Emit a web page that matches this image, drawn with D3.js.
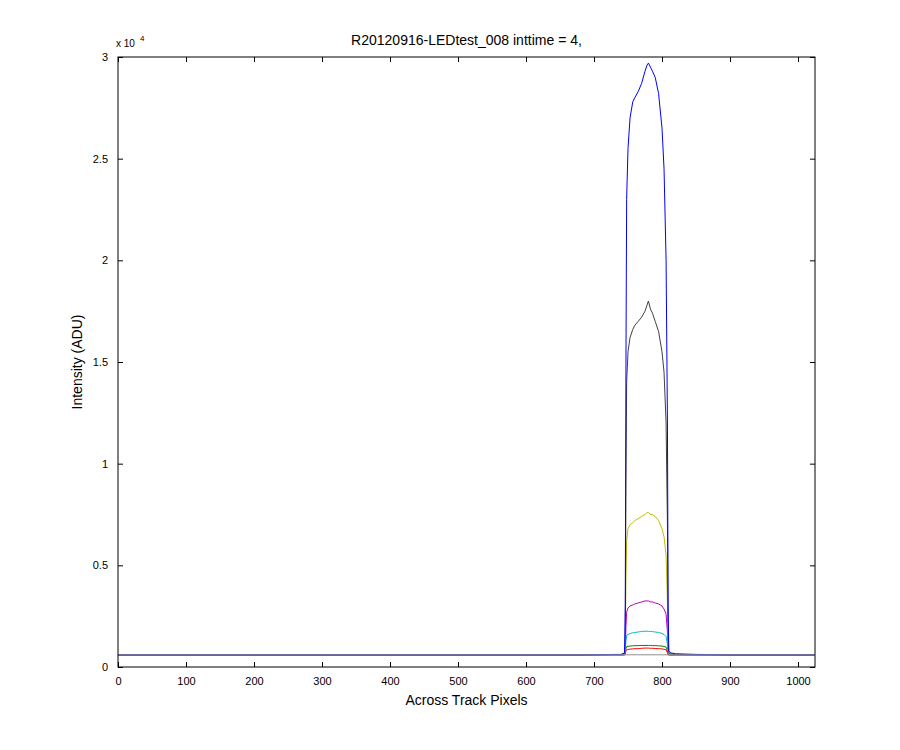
<!DOCTYPE html>
<html><head><meta charset="utf-8">
<script src="https://cdn.jsdelivr.net/npm/d3@7"></script>
<style>body{margin:0;background:#fff}text{font-family:"Liberation Sans",Arial,sans-serif}</style>
</head><body><svg width="900" height="750"></svg>
<script>
const pixels = [0,680,740,745,746,747,748,750,753,757,760,765,770,775,778,780,783,786,790,795,800,803,806,808,809,810,812,820,850,900,1024];
const blue    = [600,600,620,700,3000,15000,23000,25500,27000,27800,28000,28300,28700,29300,29600,29700,29500,29300,29000,28200,26500,24500,20000,12000,3000,800,700,650,620,600,600];
const black   = [600,600,610,650,1500,9000,14000,15500,16200,16600,16800,17000,17200,17500,17800,18000,17600,17400,17000,16500,15500,14500,12000,7000,1500,700,650,620,600,600,600];
const yellow  = [600,600,600,620,1000,4500,6200,6800,7000,7100,7200,7300,7400,7500,7600,7600,7500,7500,7400,7200,6800,6400,5500,3200,900,650,620,600,600,600,600];
const magenta = [600,600,600,610,800,2000,2700,2900,3000,3050,3100,3150,3200,3250,3250,3250,3200,3200,3150,3100,3000,2850,2600,1700,700,620,600,600,600,600,600];
const cyan    = [600,600,600,605,700,1300,1550,1600,1650,1680,1700,1720,1750,1760,1760,1750,1750,1740,1720,1700,1650,1600,1500,1100,650,610,600,600,600,600,600];
const green   = [600,600,600,600,650,900,1000,1020,1030,1040,1050,1050,1060,1060,1060,1060,1060,1050,1050,1040,1030,1010,980,800,620,600,600,600,600,600,600];
const red     = [600,600,600,600,620,800,840,860,880,890,900,900,920,930,930,930,920,920,910,900,890,870,850,700,600,600,600,600,600,600,600];
const series = [
  {values: green, color: '#008000'},
  {values: red, color: '#ff0000'},
  {values: cyan, color: '#00bfbf'},
  {values: magenta, color: '#bf00bf'},
  {values: yellow, color: '#bfbf00'},
  {values: black, color: '#404040'},
  {values: blue, color: '#0000ff'}
];
const baseline = 600;
const xTicks = d3.range(0, 1001, 100);
const yTicks = [0, 5000, 10000, 15000, 20000, 25000, 30000];

const margin = {top: 57, left: 118, right: 85, bottom: 83};
const width = 900 - margin.left - margin.right, height = 750 - margin.top - margin.bottom;
const x = d3.scaleLinear().domain([0, 1025]).range([0, width]);
const y = d3.scaleLinear().domain([0, 30000]).range([height, 0]);

const svg = d3.select('svg').append('g').attr('transform', `translate(${margin.left},${margin.top})`);
svg.append('rect').attr('width', width).attr('height', height).attr('fill', '#fff');

const line = d3.line().x((d, i) => x(pixels[i])).y(d => y(d));
series.forEach(s => {
  svg.append('path').datum(s.values).attr('d', line)
    .attr('fill', 'none').attr('stroke', s.color).attr('stroke-width', 1);
});
svg.append('line').attr('x1', 0).attr('x2', width).attr('y1', y(baseline)).attr('y2', y(baseline))
  .attr('stroke', '#909090').attr('stroke-width', 1);

const styleAxis = g => {
  g.selectAll('text').attr('font-size', 11).attr('fill', '#000');
  g.select('.domain').remove();
  g.selectAll('line').attr('stroke', '#000');
};
svg.append('g').attr('transform', `translate(0,${height})`)
  .call(d3.axisBottom(x).tickValues(xTicks).tickSizeInner(-5).tickPadding(10).tickFormat(d3.format('d'))).call(styleAxis);
svg.append('g').call(d3.axisTop(x).tickValues(xTicks).tickSizeInner(-5).tickFormat('')).call(styleAxis);
svg.append('g').call(d3.axisLeft(y).tickValues(yTicks).tickSizeInner(-5).tickPadding(10).tickFormat(d => d / 10000)).call(styleAxis);
svg.append('g').attr('transform', `translate(${width},0)`)
  .call(d3.axisRight(y).tickValues(yTicks).tickSizeInner(-5).tickFormat('')).call(styleAxis);
svg.append('rect').attr('width', width).attr('height', height).attr('fill', 'none').attr('stroke', '#000');

svg.append('text').attr('x', -2).attr('y', -10).attr('font-size', 10).text('x 10');
svg.append('text').attr('x', 22).attr('y', -16).attr('font-size', 8).text('4');
svg.append('text').attr('x', width / 2).attr('y', -12).attr('text-anchor', 'middle').attr('font-size', 14)
  .text('R20120916-LEDtest_008 inttime = 4,');
svg.append('text').attr('x', width / 2).attr('y', height + 38).attr('text-anchor', 'middle').attr('font-size', 14)
  .text('Across Track Pixels');
svg.append('text').attr('transform', `translate(-36,${height / 2}) rotate(-90)`).attr('text-anchor', 'middle').attr('font-size', 14)
  .text('Intensity (ADU)');
</script></body></html>
